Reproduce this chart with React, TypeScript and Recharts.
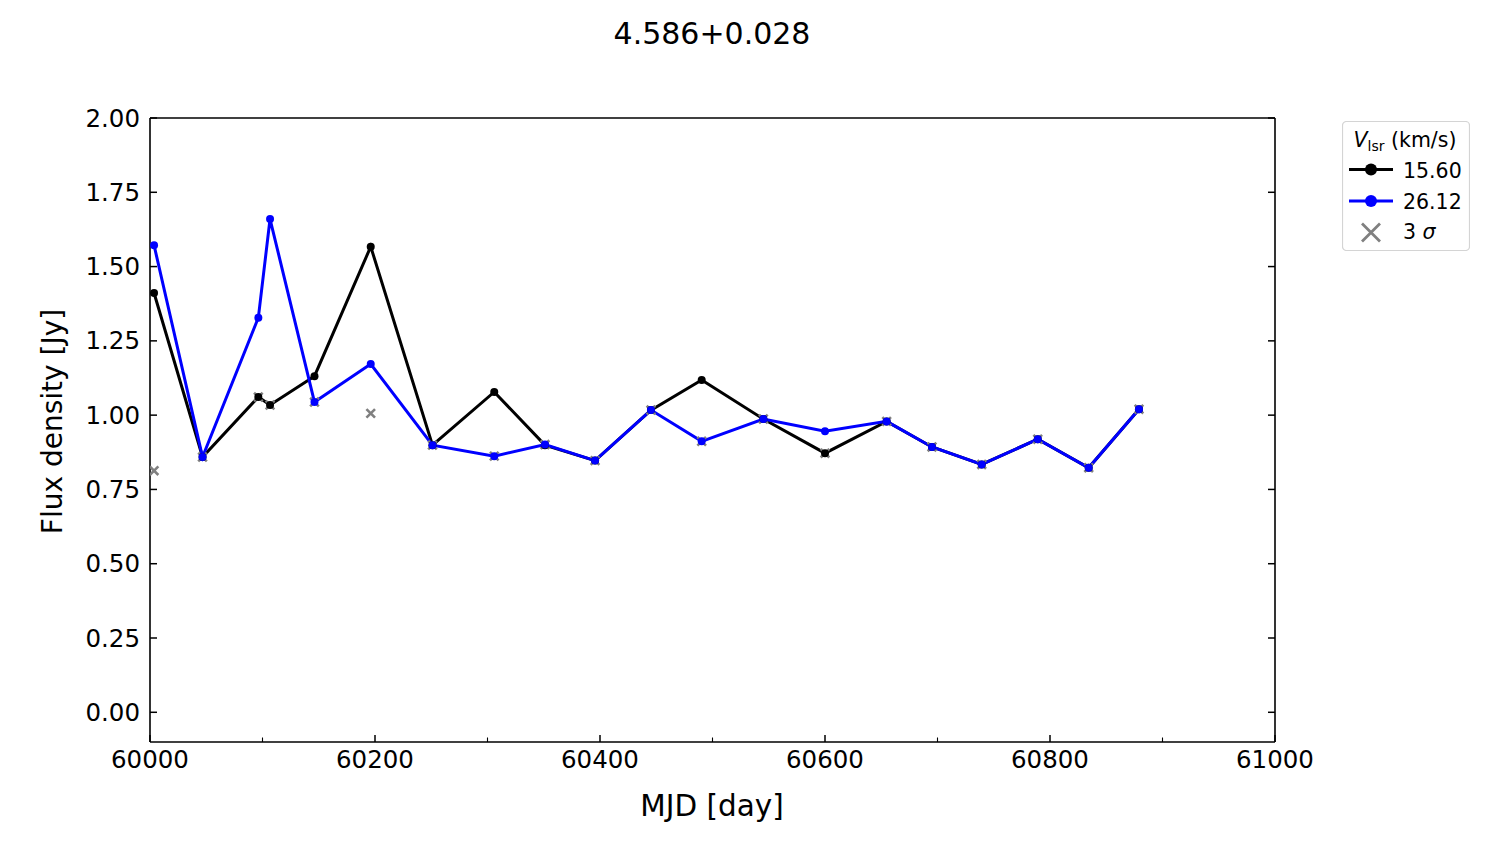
import React from 'react';
import { ComposedChart, Line, Scatter, XAxis, YAxis, Legend } from 'recharts';

// epochs (MJD) and flux densities per velocity channel
const mjd = [
  60003.6, 60046.7, 60096.3, 60106.7, 60146.2, 60196.2, 60251.1, 60306.0, 60351.1, 60395.6,
  60445.3, 60490.4, 60545.2, 60600.0, 60654.8, 60695.1, 60739.3, 60789.1, 60834.4, 60879.1,
];
const flux1560 = [
  1.411, 0.859, 1.061, 1.034, 1.131, 1.567, 0.899, 1.078, 0.899, 0.847,
  1.017, 1.118, 0.987, 0.872, 0.979, 0.893, 0.834, 0.919, 0.823, 1.020,
];
const flux2612 = [
  1.572, 0.859, 1.328, 1.660, 1.044, 1.172, 0.899, 0.862, 0.901, 0.847,
  1.017, 0.912, 0.987, 0.946, 0.979, 0.893, 0.834, 0.919, 0.823, 1.020,
];
const sigma3 = [
  0.813, 0.859, 1.061, 1.034, 1.044, 1.006, 0.899, 0.862, 0.901, 0.847,
  1.017, 0.912, 0.987, 0.872, 0.979, 0.893, 0.834, 0.919, 0.823, 1.020,
];

const seriesNames = ['15.60', '26.12'];
const seriesColors = ['#000000', '#0000ff'];

const xTicks = [60000, 60100, 60200, 60300, 60400, 60500, 60600, 60700, 60800, 60900, 61000];
const yTicks = [0, 0.25, 0.5, 0.75, 1.0, 1.25, 1.5, 1.75, 2.0];
const yearTicks = [60126, 60310, 60492, 60676, 60857];
const yearLabels = ['', '2024', '', '2025', ''];

const title = '4.586+0.028';
const FONT = '"DejaVu Sans", sans-serif';
const TICK_FS = 24.5;

const toRows = (ys: number[]) => mjd.map((m, i) => ({ mjd: m, flux: ys[i] }));
const data1560 = toRows(flux1560);
const data2612 = toRows(flux2612);
const dataSigma = toRows(sigma3);

const BottomTick = ({ x, y, payload }: any) => {
  const major = payload.value % 200 === 0;
  return (
    <g>
      <line x1={x} x2={x} y1={y} y2={y - (major ? 7 : 4.5)} stroke="#000" strokeWidth={major ? 1.5 : 1.1} />
      {major && (
        <text x={x} y={y + 25.5} textAnchor="middle" fontSize={TICK_FS} fontFamily={FONT} fill="#000">
          {payload.value}
        </text>
      )}
    </g>
  );
};

const TopTick = ({ x, y, index }: any) => {
  const label = yearLabels[index] ?? '';
  const major = label !== '';
  return (
    <g>
      <line x1={x} x2={x} y1={y} y2={y + (major ? 7 : 4.5)} stroke="#000" strokeWidth={major ? 1.5 : 1.1} />
      {major && (
        <text x={x} y={y - 12} textAnchor="middle" fontSize={TICK_FS} fontFamily={FONT} fill="#000">
          {label}
        </text>
      )}
    </g>
  );
};

const LeftTick = ({ x, y, payload }: any) => (
  <g>
    <line x1={x} x2={x + 7} y1={y} y2={y} stroke="#000" strokeWidth={1.5} />
    <text x={x - 10} y={y + 8.5} textAnchor="end" fontSize={TICK_FS} fontFamily={FONT} fill="#000">
      {payload.value.toFixed(2)}
    </text>
  </g>
);

const RightTick = ({ x, y }: any) => (
  <line x1={x} x2={x - 7} y1={y} y2={y} stroke="#000" strokeWidth={1.5} />
);

const Cross = ({ cx, cy }: any) => {
  const s = 4.3;
  return (
    <path
      d={`M${cx - s},${cy - s}L${cx + s},${cy + s}M${cx - s},${cy + s}L${cx + s},${cy - s}`}
      stroke="#808080"
      strokeWidth={2.6}
    />
  );
};

const LegendBox = () => (
  <svg width={128} height={130} style={{ display: 'block', fontFamily: FONT }}>
    <rect x={0.5} y={0.5} width={127} height={129} rx={4} fill="#fff" stroke="#d4d4d4" strokeWidth={1.2} />
    <text x={63} y={25.5} textAnchor="middle" fontSize={20.5} fill="#000">
      <tspan fontStyle="italic">V</tspan>
      <tspan fontSize={14} dy={4}>lsr</tspan>
      <tspan dy={-4}> (km/s)</tspan>
    </text>
    {seriesNames.map((name, i) => (
      <g key={name}>
        <line x1={7} x2={51} y1={48.5 + i * 31.5} y2={48.5 + i * 31.5} stroke={seriesColors[i]} strokeWidth={3} />
        <circle cx={29} cy={48.5 + i * 31.5} r={6} fill={seriesColors[i]} />
        <text x={61} y={56.5 + i * 31.5} fontSize={20.5} fill="#000">{name}</text>
      </g>
    ))}
    <path d="M20,102.5L38,120.5M20,120.5L38,102.5" stroke="#808080" strokeWidth={2.8} />
    <text x={61} y={117.5} fontSize={20.5} fill="#000">
      3 <tspan fontStyle="italic">σ</tspan>
    </text>
  </svg>
);

export default function App() {
  return (
    <div style={{ position: 'absolute', left: 0, top: 0, width: 1500, height: 844, background: '#fff' }}>
      <ComposedChart
        width={1500}
        height={844}
        margin={{ top: 78, right: 224, bottom: 42, left: 90 }}
      >
        <XAxis
          xAxisId="bottom"
          dataKey="mjd"
          type="number"
          domain={[60000, 61000]}
          ticks={xTicks}
          interval={0}
          allowDataOverflow
          height={60}
          tickSize={0}
          tickMargin={0}
          tickLine={false}
          axisLine={{ stroke: '#000', strokeWidth: 1.6 }}
          tick={<BottomTick />}
        />
        <XAxis
          xAxisId="top"
          orientation="top"
          type="number"
          domain={[60000, 61000]}
          ticks={yearTicks}
          interval={0}
          allowDataOverflow
          height={40}
          tickSize={0}
          tickMargin={0}
          tickLine={false}
          axisLine={{ stroke: '#000', strokeWidth: 1.6 }}
          tick={<TopTick />}
        />
        <YAxis
          yAxisId="left"
          type="number"
          domain={[-0.1, 2.0]}
          ticks={yTicks}
          interval={0}
          allowDataOverflow
          width={60}
          tickSize={0}
          tickMargin={0}
          tickLine={false}
          axisLine={{ stroke: '#000', strokeWidth: 1.6 }}
          tick={<LeftTick />}
        />
        <YAxis
          yAxisId="right"
          orientation="right"
          type="number"
          domain={[-0.1, 2.0]}
          ticks={yTicks}
          interval={0}
          allowDataOverflow
          width={1}
          tickSize={0}
          tickMargin={0}
          tickLine={false}
          axisLine={{ stroke: '#000', strokeWidth: 1.6 }}
          tick={<RightTick />}
        />
        <Legend
          layout="vertical"
          align="center"
          verticalAlign="middle"
          wrapperStyle={{ left: 1342, top: 121, width: 128, height: 130 }}
          content={() => <LegendBox />}
        />
        <Scatter
          name="3 sigma"
          data={dataSigma}
          dataKey="flux"
          xAxisId="bottom"
          yAxisId="left"
          shape={<Cross />}
          isAnimationActive={false}
        />
        <Line
          name={seriesNames[0]}
          data={data1560}
          dataKey="flux"
          xAxisId="bottom"
          yAxisId="left"
          stroke={seriesColors[0]}
          strokeWidth={3}
          dot={{ r: 4, fill: seriesColors[0], stroke: seriesColors[0], strokeWidth: 0 }}
          activeDot={false}
          isAnimationActive={false}
        />
        <Line
          name={seriesNames[1]}
          data={data2612}
          dataKey="flux"
          xAxisId="bottom"
          yAxisId="left"
          stroke={seriesColors[1]}
          strokeWidth={3}
          dot={{ r: 4, fill: seriesColors[1], stroke: seriesColors[1], strokeWidth: 0 }}
          activeDot={false}
          isAnimationActive={false}
        />
      </ComposedChart>
      <svg
        width={1500}
        height={844}
        style={{ position: 'absolute', left: 0, top: 0, pointerEvents: 'none', fontFamily: FONT }}
      >
        <text x={712} y={43.5} textAnchor="middle" fontSize={30} fill="#000">{title}</text>
        <text x={712} y={816} textAnchor="middle" fontSize={29.5} fill="#000">MJD [day]</text>
        <text transform="translate(62,421.5) rotate(-90)" textAnchor="middle" fontSize={28} fill="#000">
          Flux density [Jy]
        </text>
      </svg>
    </div>
  );
}
